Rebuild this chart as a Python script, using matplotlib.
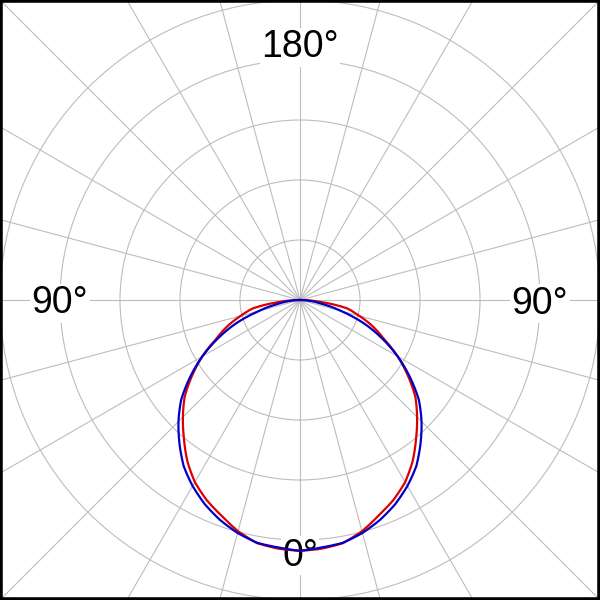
import numpy as np
import matplotlib
matplotlib.use("Agg")
import matplotlib.pyplot as plt
from matplotlib.patches import Rectangle

# angles measured from the downward (0°) direction, degrees
angles_deg = [-90, -85, -80, -75, -70, -65, -60, -55, -50, -45, -40, -35, -30, -25, -20, -15, -10, -5,
              0, 5, 10, 15, 20, 25, 30, 35, 40, 45, 50, 55, 60, 65, 70, 75, 80, 85, 90]

# radial values (grid circles at 0.2, 0.4, ..., 1.0)
half_blue = [0.836, 0.828, 0.822, 0.804, 0.780, 0.751, 0.716, 0.676, 0.625, 0.573,
             0.517, 0.447, 0.376, 0.301, 0.226, 0.142, 0.075, 0.033, 0.0]
half_red = [0.836, 0.832, 0.823, 0.798, 0.765, 0.736, 0.701, 0.655, 0.602, 0.552,
            0.502, 0.439, 0.376, 0.309, 0.259, 0.205, 0.159, 0.063, 0.0]
blue_r = half_blue[::-1] + half_blue[1:]
red_r = half_red[::-1] + half_red[1:]

ring_values = [0.2, 0.4, 0.6, 0.8, 1.0]
spoke_deg = list(range(0, 360, 15))

# label text, angle (deg), radius of label centre
label_texts = ["180°", "90°", "90°", "0°"]
label_angles = [180, 90, -90, 0]
label_radii = [0.855, 0.80, 0.80, 0.84]

plt.rcParams['font.family'] = ['Liberation Sans', 'DejaVu Sans']

fig = plt.figure(figsize=(6, 6), dpi=100)
fig.patch.set_facecolor('white')
ax = fig.add_axes([-0.25, -0.25, 1.5, 1.5], projection='polar')
ax.set_theta_zero_location('S')
ax.set_theta_direction(1)
ax.set_rlim(0, 1.5)
ax.set_rgrids(ring_values, labels=[''] * len(ring_values))
ax.set_thetagrids(spoke_deg, labels=[''] * len(spoke_deg))
ax.grid(True, color='#bdbdbd', linewidth=0.8)
ax.spines['polar'].set_visible(False)
ax.tick_params(length=0)

th = np.deg2rad(angles_deg)
red_line, = ax.plot(th, red_r, color='#dc0000', linewidth=1.6, zorder=4)
blue_line, = ax.plot(th, blue_r, color='#0000c8', linewidth=1.6, zorder=5)
for ln in (red_line, blue_line):
    ln.get_path()._interpolation_steps = 8

for s, a, r in zip(label_texts, label_angles, label_radii):
    ax.annotate(s, xy=(np.deg2rad(a), r), xytext=(0, -13.5), textcoords='offset pixels',
                ha='center', va='baseline', fontsize=27, color='black', zorder=3,
                bbox=dict(facecolor='white', edgecolor='none', pad=1))

fig.patches.append(Rectangle((0, 0), 1, 1, transform=fig.transFigure, fill=False,
                             edgecolor='black', linewidth=4, zorder=10))

fig.savefig('out.png', dpi=100, facecolor='white')
